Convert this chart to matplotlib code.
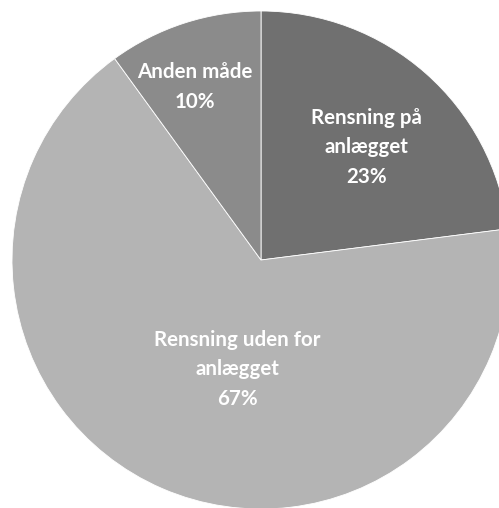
import matplotlib
matplotlib.use("Agg")
import matplotlib.pyplot as plt
import numpy as np

# Shares of cleaning method
categories = ["Rensning på\nanlægget", "Rensning uden for\nanlægget", "Anden måde"]
shares = [23, 67, 10]
colors = ["#707070", "#b4b4b4", "#8b8b8b"]

# Label anchor points (radius fraction, angle in degrees) inside each slice
label_pos = [(0.62, 46.8), (0.45, 257.7), (0.745, 110.9)]

W, H, DPI = 499, 508, 100
cx, cy, r = 261, 260, 249  # pie centre and radius in pixels

fig = plt.figure(figsize=(W / DPI, H / DPI), dpi=DPI)
ax = fig.add_axes([0, 0, 1, 1])
ax.pie(shares, colors=colors, startangle=90, counterclock=False,
       radius=1, center=(0, 0),
       wedgeprops=dict(edgecolor="white", linewidth=0.6))

ax.set_xlim(-cx / r, (W - cx) / r)
ax.set_ylim(-(H - cy) / r, cy / r)
ax.axis("off")

for cat, val, (d, ang) in zip(categories, shares, label_pos):
    x = d * np.cos(np.radians(ang))
    y = d * np.sin(np.radians(ang))
    ax.text(x, y, f"{cat}\n{val}%", ha="center", va="center",
            color="white", fontsize=14.8, fontweight="bold",
            family="Lato", linespacing=1.62)

fig.savefig("out.png", dpi=DPI)
